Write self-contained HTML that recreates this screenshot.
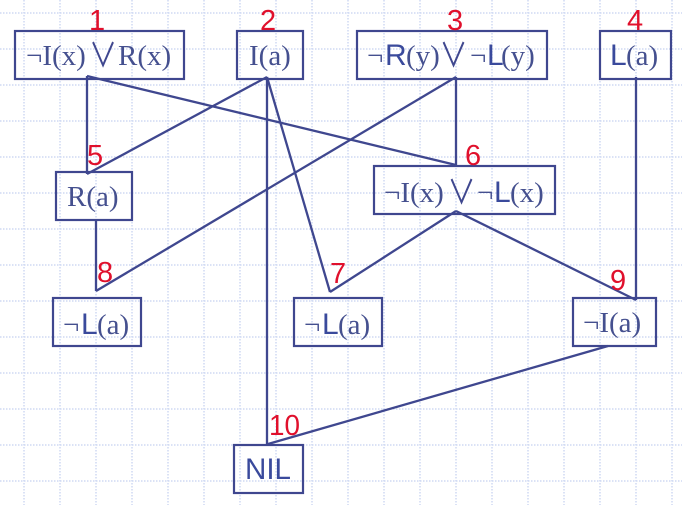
<!DOCTYPE html>
<html lang="en">
<head>
<meta charset="utf-8">
<title>Resolution proof tree</title>
<style>
html,body{margin:0;padding:0;background:#fff;width:682px;height:505px;overflow:hidden}
svg{display:block}
.grid line{stroke:#cfd9f3;stroke-width:1.5;stroke-dasharray:1.5 1.5}
.box{fill:none;stroke:#3f478f;stroke-width:2.2}
.edge{stroke:#3f478f;stroke-width:2.3;fill:none}
.s{font-family:"Liberation Serif",serif;font-size:29px;fill:#45508f}
.l{font-family:"Liberation Sans",sans-serif;font-size:30px;fill:#3a4a9c}
.n{font-family:"Liberation Sans",sans-serif;font-size:29px;fill:#e0102c}
.o{font-family:"Noto Sans CJK JP",sans-serif;font-size:36px;font-weight:400;fill:#3f478f;text-anchor:middle}
</style>
</head>
<body>
<svg width="682" height="505" viewBox="0 0 682 505" xmlns="http://www.w3.org/2000/svg">
<g class="grid">
<line x1="24" y1="0" x2="24" y2="505"/><line x1="60" y1="0" x2="60" y2="505"/><line x1="96" y1="0" x2="96" y2="505"/><line x1="132" y1="0" x2="132" y2="505"/><line x1="168" y1="0" x2="168" y2="505"/><line x1="204" y1="0" x2="204" y2="505"/><line x1="240" y1="0" x2="240" y2="505"/><line x1="276" y1="0" x2="276" y2="505"/><line x1="312" y1="0" x2="312" y2="505"/><line x1="348" y1="0" x2="348" y2="505"/><line x1="384" y1="0" x2="384" y2="505"/><line x1="420" y1="0" x2="420" y2="505"/><line x1="456" y1="0" x2="456" y2="505"/><line x1="492" y1="0" x2="492" y2="505"/><line x1="528" y1="0" x2="528" y2="505"/><line x1="564" y1="0" x2="564" y2="505"/><line x1="600" y1="0" x2="600" y2="505"/><line x1="636" y1="0" x2="636" y2="505"/><line x1="672" y1="0" x2="672" y2="505"/>
<line x1="0" y1="13" x2="682" y2="13"/><line x1="0" y1="49" x2="682" y2="49"/><line x1="0" y1="85" x2="682" y2="85"/><line x1="0" y1="121" x2="682" y2="121"/><line x1="0" y1="157" x2="682" y2="157"/><line x1="0" y1="193" x2="682" y2="193"/><line x1="0" y1="229" x2="682" y2="229"/><line x1="0" y1="265" x2="682" y2="265"/><line x1="0" y1="301" x2="682" y2="301"/><line x1="0" y1="337" x2="682" y2="337"/><line x1="0" y1="373" x2="682" y2="373"/><line x1="0" y1="409" x2="682" y2="409"/><line x1="0" y1="445" x2="682" y2="445"/><line x1="0" y1="481" x2="682" y2="481"/>
</g>
<g>
<line class="edge" x1="87" y1="76" x2="87" y2="174"/>
<line class="edge" x1="87" y1="76" x2="456" y2="165"/>
<line class="edge" x1="267" y1="77" x2="87" y2="174"/>
<line class="edge" x1="267" y1="77" x2="267" y2="445"/>
<line class="edge" x1="267" y1="77" x2="330" y2="292"/>
<line class="edge" x1="456" y1="77" x2="96" y2="291"/>
<line class="edge" x1="456" y1="77" x2="456" y2="165"/>
<line class="edge" x1="636" y1="77" x2="636" y2="300"/>
<line class="edge" x1="96" y1="220" x2="96" y2="291"/>
<line class="edge" x1="456" y1="211" x2="330" y2="292"/>
<line class="edge" x1="456" y1="211" x2="636" y2="300"/>
<line class="edge" x1="608" y1="346" x2="268" y2="444"/>
</g>
<g>
<rect class="box" x="15" y="31" width="169" height="48"/>
<rect class="box" x="237" y="31" width="66" height="48"/>
<rect class="box" x="357" y="31" width="190" height="48"/>
<rect class="box" x="600" y="31" width="71" height="48"/>
<rect class="box" x="56" y="172" width="76" height="48"/>
<rect class="box" x="374" y="166" width="181" height="48"/>
<rect class="box" x="294" y="298" width="88" height="48"/>
<rect class="box" x="53" y="298" width="88" height="48"/>
<rect class="box" x="573" y="298" width="83" height="48"/>
<rect class="box" x="234" y="445" width="69" height="48"/>
</g>
<g>
<g><text class="s" x="26" y="65">¬I(x)</text><text class="o" transform="translate(103 67) scale(.78 .93)">∨</text><text class="s" x="118" y="65">R(x)</text></g>
<text class="s" x="249" y="65">I(a)</text>
<g><text class="s" x="367" y="65">¬</text><text class="l" x="385" y="65">R</text><text class="s" x="406" y="65">(y)</text><text class="o" transform="translate(453.5 67) scale(.78 .93)">∨</text><text class="s" x="470" y="65">¬</text><text class="l" x="487" y="65">L</text><text class="s" x="501" y="65">(y)</text></g>
<g><text class="l" x="610" y="65">L</text><text class="s" x="626" y="65">(a)</text></g>
<text class="s" x="67" y="206">R(a)</text>
<g><text class="s" x="384" y="202">¬I(x)</text><text class="o" transform="translate(461.5 204) scale(.78 .93)">∨</text><text class="s" x="477" y="202">¬</text><text class="l" x="494" y="202">L</text><text class="s" x="510" y="202">(x)</text></g>
<g><text class="s" x="304" y="334">¬</text><text class="l" x="322" y="334">L</text><text class="s" x="338" y="334">(a)</text></g>
<g><text class="s" x="63" y="334">¬</text><text class="l" x="81" y="334">L</text><text class="s" x="97" y="334">(a)</text></g>
<text class="s" x="583" y="332">¬I(a)</text>
<text class="l" x="245" y="479" textLength="46" lengthAdjust="spacingAndGlyphs">NIL</text>
</g>
<g>
<text class="n" x="89" y="30">1</text>
<text class="n" x="260" y="30">2</text>
<text class="n" x="447" y="30">3</text>
<text class="n" x="627" y="30">4</text>
<text class="n" x="87" y="165">5</text>
<text class="n" x="465" y="165">6</text>
<text class="n" x="330" y="283">7</text>
<text class="n" x="97" y="282">8</text>
<text class="n" x="610" y="290">9</text>
<text class="n" x="269" y="435" textLength="31" lengthAdjust="spacingAndGlyphs">10</text>
</g>
</svg>
</body>
</html>
